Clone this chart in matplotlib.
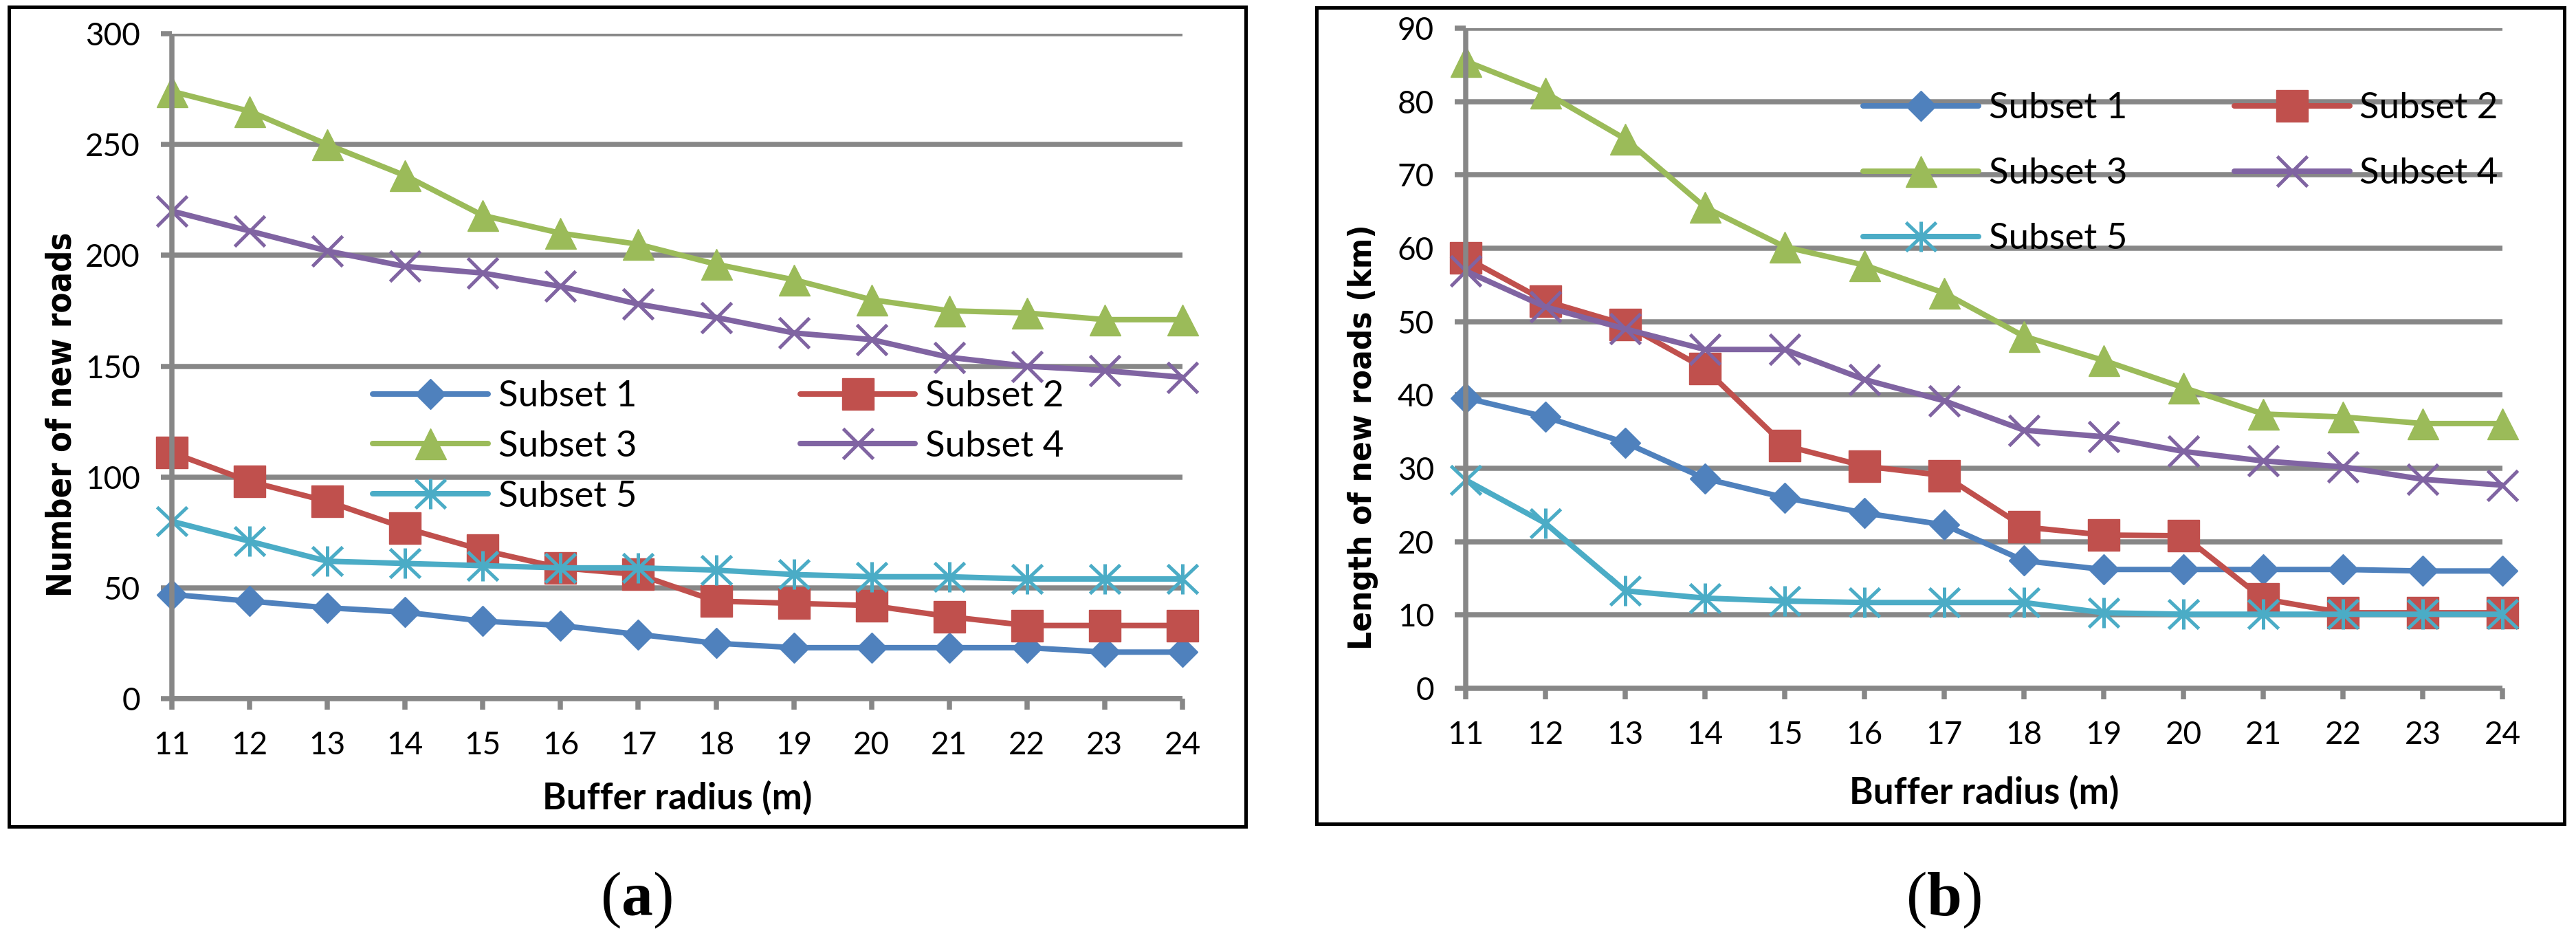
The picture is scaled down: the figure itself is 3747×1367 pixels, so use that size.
import matplotlib
matplotlib.use("Agg")
import matplotlib.pyplot as plt
from matplotlib.path import Path
from matplotlib.patches import Rectangle
from matplotlib.font_manager import FontProperties

# ---------------- data ----------------
radius = [11, 12, 13, 14, 15, 16, 17, 18, 19, 20, 21, 22, 23, 24]
series_names = ["Subset 1", "Subset 2", "Subset 3", "Subset 4", "Subset 5"]

count_s1 = [47, 44, 41, 39, 35, 33, 29, 25, 23, 23, 23, 23, 21, 21]
count_s2 = [111, 98, 89, 77, 67, 59, 56, 44, 43, 42, 37, 33, 33, 33]
count_s3 = [274, 265, 250, 236, 218, 210, 205, 196, 189, 180, 175, 174, 171, 171]
count_s4 = [220, 211, 202, 195, 192, 186, 178, 172, 165, 162, 154, 150, 148, 145]
count_s5 = [80, 71, 62, 61, 60, 59, 59, 58, 56, 55, 55, 54, 54, 54]

length_s1 = [39.6, 37.0, 33.5, 28.6, 26.0, 23.9, 22.3, 17.4, 16.2, 16.2, 16.2, 16.2, 16.0, 16.0]
length_s2 = [58.7, 52.8, 49.6, 43.6, 33.1, 30.3, 29.0, 22.0, 20.9, 20.8, 12.2, 10.3, 10.3, 10.3]
length_s3 = [85.5, 81.2, 74.9, 65.6, 60.2, 57.7, 53.9, 48.0, 44.7, 41.0, 37.4, 37.0, 36.1, 36.1]
length_s4 = [56.9, 52.0, 49.0, 46.2, 46.2, 42.1, 39.2, 35.2, 34.3, 32.3, 31.0, 30.2, 28.5, 27.7]
length_s5 = [28.4, 22.5, 13.3, 12.3, 11.9, 11.7, 11.7, 11.7, 10.3, 10.1, 10.1, 10.1, 10.1, 10.1]

count_ticks = [0, 50, 100, 150, 200, 250, 300]
length_ticks = [0, 10, 20, 30, 40, 50, 60, 70, 80, 90]

# ---------------- style ----------------
W, H = 3748, 1367
DPI = 100
PX = 72.0 / DPI  # points per pixel

colors = ["#4F81BD", "#C0504D", "#9BBB59", "#8064A2", "#4BACC6"]
GRID = "#878787"

star = Path([(0, -1), (0, 1), (-1, -0.95), (1, 0.95), (-1, 0.95), (1, -0.95)],
            [Path.MOVETO, Path.LINETO, Path.MOVETO, Path.LINETO, Path.MOVETO, Path.LINETO])

marker_specs = [
    dict(marker="D", markersize=44 / 1.414 * PX, filled=True),
    dict(marker="s", markersize=46 * PX, filled=True),
    dict(marker="^", markersize=45 * PX, filled=True),
    dict(marker="x", markersize=44 * PX, filled=False),
    dict(marker=star, markersize=44 * PX, filled=False),
]

plt.rcParams["mathtext.fontset"] = "custom"
plt.rcParams["mathtext.rm"] = "Liberation Serif"
plt.rcParams["mathtext.bf"] = "Liberation Serif:bold"

tick_font = FontProperties(family=["Lato", "DejaVu Sans"], size=33)
legend_font = FontProperties(family=["Lato", "DejaVu Sans"], size=38)
xlabel_font = FontProperties(family=["Lato", "DejaVu Sans"], weight="bold", size=38)
ylabel_font_a = FontProperties(family=["DejaVu Sans"], weight="bold", stretch="condensed", size=35)
ylabel_font_b = FontProperties(family=["DejaVu Sans"], weight="bold", stretch="condensed", size=34)

fig = plt.figure(figsize=(W / DPI, H / DPI), dpi=DPI)
fig.patch.set_facecolor("white")


def fx(px):
    return px / W


def fy(py):
    return 1 - py / H


def make_axes(x0, x1, ytop, ybot):
    return fig.add_axes([fx(x0), fy(ybot), fx(x1) - fx(x0), fy(ytop) - fy(ybot)])


def style_axes(ax, yticks, ymax):
    ax.set_xlim(radius[0], radius[-1])
    ax.set_ylim(0, ymax)
    ax.set_xticks(radius)
    ax.set_xticklabels([str(r) for r in radius])
    ax.set_yticks(yticks)
    ax.set_yticklabels([str(t) for t in yticks])
    for lab in ax.get_xticklabels() + ax.get_yticklabels():
        lab.set_fontproperties(tick_font)
    for s in ["top", "right"]:
        ax.spines[s].set_visible(False)
    for s in ["left", "bottom"]:
        ax.spines[s].set_color(GRID)
        ax.spines[s].set_linewidth(7.5 * PX)
        ax.spines[s].set_capstyle("butt")
    ax.tick_params(axis="both", direction="out", length=16 * PX, width=7.5 * PX,
                   color=GRID, labelcolor="black")
    ax.tick_params(axis="y", pad=30 * PX)
    ax.tick_params(axis="x", pad=31 * PX)
    ax.yaxis.grid(True, color=GRID, linewidth=7.5 * PX)
    ax.set_axisbelow(True)


def plot_series(ax, data):
    handles = []
    for vals, col, spec in zip(data, colors, marker_specs):
        kw = dict(color=col, linewidth=8 * PX, marker=spec["marker"],
                  markersize=spec["markersize"], clip_on=False,
                  solid_capstyle="round", solid_joinstyle="round")
        if spec["filled"]:
            kw.update(markerfacecolor=col, markeredgecolor=col, markeredgewidth=1.0)
        else:
            kw.update(markerfacecolor="none", markeredgecolor=col, markeredgewidth=5 * PX)
        ln, = ax.plot(radius, vals, **kw)
        handles.append(ln)
    return handles


def add_legend(ax, handles, left_px, top_px, colspacing, labelspacing):
    order = [0, 2, 4, 1, 3]
    leg = ax.legend([handles[i] for i in order], [series_names[i] for i in order],
                    ncol=2, loc="upper left",
                    bbox_to_anchor=(fx(left_px), fy(top_px)), bbox_transform=fig.transFigure,
                    frameon=False, borderpad=0, borderaxespad=0, numpoints=1,
                    handlelength=3.18, handletextpad=0.28,
                    columnspacing=colspacing, labelspacing=labelspacing,
                    prop=legend_font)
    return leg


# ---------------- panel (a) ----------------
ax1 = make_axes(250, 1720, 49, 1016)
style_axes(ax1, count_ticks, 300)
h1 = plot_series(ax1, [count_s1, count_s2, count_s3, count_s4, count_s5])
add_legend(ax1, h1, 542, 553, 4.5, 0.49)
fig.text(fx(985), fy(1160), "Buffer radius (m)", fontproperties=xlabel_font,
         ha="center", va="center")
fig.text(fx(90), fy(603), "Number of new roads", fontproperties=ylabel_font_a,
         rotation=90, ha="center", va="center")
fig.text(fx(925), fy(1307), r"$\mathrm{(}\mathbf{a}\mathrm{)}$", fontsize=66,
         ha="center", va="center")

# ---------------- panel (b) ----------------
ax2 = make_axes(2132, 3640, 41, 1001)
style_axes(ax2, length_ticks, 90)
h2 = plot_series(ax2, [length_s1, length_s2, length_s3, length_s4, length_s5])
add_legend(ax2, h2, 2710, 134, 2.95, 0.91)
fig.text(fx(2886), fy(1152), "Buffer radius (m)", fontproperties=xlabel_font,
         ha="center", va="center")
fig.text(fx(1983), fy(636), "Length of new roads (km)", fontproperties=ylabel_font_b,
         rotation=90, ha="center", va="center")
fig.text(fx(2827), fy(1307), r"$\mathrm{(}\mathbf{b}\mathrm{)}$", fontsize=66,
         ha="center", va="center")

# ---------------- frames ----------------
for (x0, y0, x1, y1) in [(12.5, 9.5, 1812.5, 1202), (1915.5, 10.5, 3730.5, 1198)]:
    fig.add_artist(Rectangle((fx(x0), fy(y1)), fx(x1) - fx(x0), fy(y0) - fy(y1),
                             transform=fig.transFigure, fill=False,
                             edgecolor="black", linewidth=5 * PX))

fig.savefig("out.png", dpi=DPI, facecolor="white")
